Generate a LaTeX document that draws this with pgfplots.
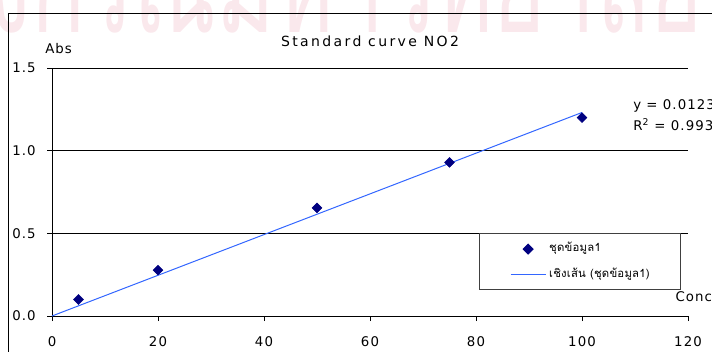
\documentclass[border=0pt]{standalone}
\usepackage{fontspec}
\setmainfont{DejaVu Sans}
\newfontfamily\lat[LetterSpace=8]{DejaVu Sans}
\newfontfamily\ttl[LetterSpace=17]{DejaVu Sans}
\newfontfamily\thai[Script=Thai]{Loma}
\newfontfamily\thaisp[Script=Thai,LetterSpace=2]{Loma}
\usepackage{pgfplots}
\pgfplotsset{compat=1.18}
\definecolor{navy}{RGB}{0,0,128}
\definecolor{trend}{RGB}{51,102,255}
\definecolor{wm}{RGB}{250,232,236}
\definecolor{lgdraw}{RGB}{64,64,64}

\pgfplotsset{
  marklegend/.style={legend image code/.code={\draw[mark repeat=2,mark phase=2,##1] plot coordinates {(0pt,0pt)(13.1pt,0pt)(26.25pt,0pt)};}},
  linelegend/.style={legend image code/.code={\draw[##1] (0pt,0pt) -- (26.25pt,0pt);}},
}

\pgfplotstableread{
x y
5 0.100
20 0.277
50 0.654
75 0.929
100 1.200
}\pts
\pgfplotstableread{
x y
0 0
100 1.231
}\fit

\begin{document}
\begin{tikzpicture}
% watermark
\begin{scope}[shift={(-48.3pt,213pt)}, yscale=1.6]
\node[anchor=base west, inner sep=0pt, text=wm, transform shape, font=\thai\fontsize{67}{70}\selectfont] at (0,0) {งกรณ์มหาวิทยาลัย};
\end{scope}
% chart area frame
\draw[line width=0.75pt, black] (-32.6pt,-30pt) -- (-32.6pt,226.9pt) -- (500pt,226.9pt);

\begin{axis}[
  at={(0,0)}, anchor=south west,
  scale only axis, width=477pt, height=186pt,
  xmin=0, xmax=120, ymin=0, ymax=1.5,
  axis lines*=left,
  xtick={0,20,...,120}, ytick={0,0.5,1,1.5},
  ymajorgrids,
  grid style={black, line width=0.75pt},
  axis line style={black, line width=0.75pt},
  tick style={black, line width=0.75pt},
  tick align=outside, major tick length=3.75pt,
  yticklabel style={/pgf/number format/.cd, fixed, fixed zerofill, precision=1, /tikz/.cd, xshift=-5pt},
  xticklabel style={yshift=-8pt},
  ticklabel style={font=\lat\fontsize{10}{12}\selectfont},
  /pgf/number format/assume math mode=true,
  clip=false,
  legend cell align=left,
  legend style={at={(0.6714,0.3347)}, anchor=north west, draw=lgdraw, line width=0.75pt,
    fill=white, inner xsep=23pt, inner ysep=8pt, row sep=12pt,
    nodes={inner sep=0pt, text height=5.5pt, text depth=1.5pt, font=\thaisp\fontsize{8.5}{10}\selectfont},
    /tikz/every odd column/.append style={column sep=2.25pt}},
]
\addplot[only marks, mark=square*, mark size=2.6pt, color=navy,
  mark options={rotate=45, fill=navy, draw=navy}, marklegend]
  table[x=x,y=y] {\pts};
\addlegendentry{ชุดข้อมูล1}
\addplot[no marks, color=trend, line width=0.75pt, linelegend]
  table[x=x,y=y] {\fit};
\addlegendentry{เชิงเส้น (ชุดข้อมูล1)}
\end{axis}

\node[anchor=base, inner sep=0pt, font=\ttl\fontsize{10.5}{12}\selectfont] at (238.5pt,202.5pt) {Standard curve NO2};
\node[anchor=base west, inner sep=0pt, font=\lat\fontsize{10}{12}\selectfont] at (-5.25pt,197.25pt) {Abs};
\node[anchor=base west, inner sep=0pt, font=\lat\fontsize{10}{12}\selectfont] at (467.5pt,11.25pt) {Conc};
\node[anchor=base west, inner sep=0pt, font=\lat\fontsize{10}{12}\selectfont] at (435.75pt,155.25pt) {y = 0.0123x};
\node[anchor=base west, inner sep=0pt, font=\lat\fontsize{10}{12}\selectfont] at (435.75pt,139.5pt) {R\textsuperscript{2} = 0.9936};

\pgfresetboundingbox
\useasboundingbox (-39pt,-26.25pt) rectangle (495pt,237pt);
\end{tikzpicture}
\end{document}
